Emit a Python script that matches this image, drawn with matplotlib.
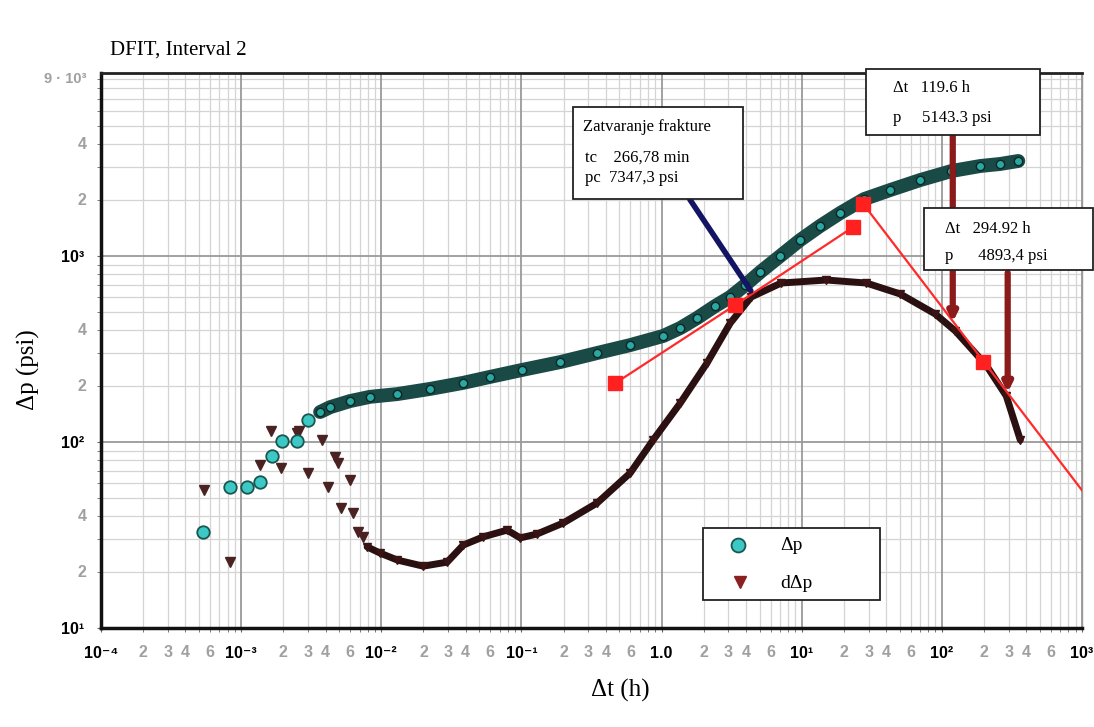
import matplotlib
matplotlib.use("Agg")
import matplotlib.pyplot as plt
from matplotlib.patches import Rectangle
from matplotlib.lines import Line2D
from matplotlib.ticker import FixedLocator, NullFormatter

# Data: delta p (early scattered points, then dense curve)
t_dp_early = [5.3e-4, 8.3e-4, 1.1e-3, 1.36e-3, 1.66e-3, 1.96e-3, 2.5e-3, 3.0e-3]
dp_early = [33, 57, 57, 61, 84, 101, 101, 131]
t_dp = [3.66e-3, 4.32e-3, 5.98e-3, 8.32e-3, 0.013, 0.0223, 0.0384, 0.0598, 0.101,
        0.189, 0.347, 0.597, 1.03, 1.36, 1.79, 2.41, 3.09, 3.95, 5.06, 7.02, 9.75,
        13.5, 18.8, 27.9, 42.8, 70.2, 117, 188, 261, 351]
dp = [145, 154, 166, 175, 181, 193, 208, 224, 244, 269, 301, 332, 372, 410, 464,
      538, 602, 698, 820, 1000, 1219, 1449, 1702, 2024, 2264, 2563, 2864, 3048,
      3126, 3243]

# Data: derivative
t_der_early = [5.45e-4, 8.3e-4, 1.36e-3, 1.63e-3, 1.93e-3, 2.5e-3, 2.6e-3, 3.0e-3,
               3.78e-3, 4.15e-3, 4.7e-3, 4.9e-3, 5.2e-3, 6.0e-3, 6.3e-3, 6.8e-3, 7.4e-3]
der_early = [55, 22.6, 75, 115, 72.5, 112, 115, 68, 103, 57, 83, 77, 44, 62.5, 41.5, 33, 31]
t_der = [7.93e-3, 9.79e-3, 0.013, 0.0199, 0.0295, 0.0384, 0.0533, 0.0791, 0.098,
         0.129, 0.199, 0.347, 0.597, 0.871, 1.36, 2.11, 3.09, 4.36, 7.14, 15.0,
         28.9, 50.5, 89.7, 125, 207, 288, 363]
der = [27.3, 25.3, 23.2, 21.5, 22.6, 27.9, 30.9, 33.6, 30.5, 32.0, 36.7, 47.0,
       68.1, 102.5, 162, 266, 436, 602, 716, 743, 716, 625, 488, 395, 259, 177, 102.5]

# Red fitted points and lines
t_sq = [0.467, 3.35, 23.3, 27.5, 198]
p_sq = [207, 545, 1432, 1905, 269]
line_end = (1000, 55)

# Annotations
tc_h = 266.78 / 60
t_arrow1, t_arrow2 = 119.6, 294.92

xmaj = [1e-4, 1e-3, 1e-2, 1e-1, 1, 10, 100, 1000]
xmaj_lbl = ["10⁻⁴", "10⁻³", "10⁻²", "10⁻¹", "1.0", "10¹", "10²", "10³"]
ymaj = [10, 100, 1000]
ymaj_lbl = ["10¹", "10²", "10³"]

fig = plt.figure(figsize=(10.94, 7.27), dpi=100)
ax = fig.add_axes([101 / 1094, 99 / 727, 981 / 1094, 555 / 727])
ax.set_xscale("log")
ax.set_yscale("log")
ax.set_xlim(1e-4, 1e3)
ax.set_ylim(10, 9640)

# grid
xminor = [m * 10.0 ** e for e in range(-4, 3) for m in range(2, 10)]
yminor = [m * 10.0 ** e for e in range(1, 4) for m in range(2, 10) if m * 10.0 ** e < 9640]
for v in xminor:
    ax.axvline(v, color="#d4d4d4", lw=0.9, zorder=0)
for v in yminor:
    ax.axhline(v, color="#d4d4d4", lw=0.9, zorder=0)
for v in xmaj[1:-1]:
    ax.axvline(v, color="#9a9a9a", lw=1.3, zorder=0)
for v in ymaj[1:]:
    ax.axhline(v, color="#9a9a9a", lw=1.3, zorder=0)
ax.axvline(1000, color="#9a9a9a", lw=1.3, zorder=0)

# ticks
ax.xaxis.set_major_locator(FixedLocator(xmaj))
ax.xaxis.set_minor_locator(FixedLocator(xminor))
ax.yaxis.set_major_locator(FixedLocator(ymaj))
ax.yaxis.set_minor_locator(FixedLocator(yminor))
ax.set_xticklabels(xmaj_lbl)
ax.set_yticklabels(ymaj_lbl)
ax.xaxis.set_minor_formatter(NullFormatter())
ax.yaxis.set_minor_formatter(NullFormatter())
ax.tick_params(which="both", length=3, color="#666666")
ax.tick_params(axis="x", pad=10)
ax.tick_params(axis="y", pad=9)
tickfont = ["Liberation Sans", "DejaVu Sans"]
for lab in ax.get_xticklabels() + ax.get_yticklabels():
    lab.set_family(tickfont)
    lab.set_fontweight("bold")
    lab.set_fontsize(11.5)
    lab.set_color("black")

# gray minor labels
for e in range(-4, 3):
    for m in [2, 3, 4, 6]:
        ax.text(m * 10.0 ** e, -0.03, str(m), transform=ax.get_xaxis_transform(),
                ha="center", va="top", fontsize=11.5, fontweight="bold",
                color="#a0a0a0", family=tickfont)
for e in [1, 2, 3]:
    for m in [2, 4]:
        ax.text(-0.015, m * 10.0 ** e, str(m), transform=ax.get_yaxis_transform(),
                ha="right", va="center", fontsize=11.5, fontweight="bold",
                color="#a0a0a0", family=tickfont)
ax.text(-0.015, 9000, "9 · 10³", transform=ax.get_yaxis_transform(), ha="right",
        va="center", fontsize=10.5, fontweight="bold", color="#a0a0a0", family=tickfont)

for s in ["left", "bottom"]:
    ax.spines[s].set_linewidth(2.5)
    ax.spines[s].set_color("#111111")
ax.spines["top"].set_linewidth(2)
ax.spines["top"].set_color("#222222")
ax.spines["right"].set_linewidth(1)
ax.spines["right"].set_color("#999999")

# derivative
ax.plot(t_der, der, color="#2a1010", lw=5, zorder=3, solid_capstyle="round")
ax.plot(t_der, der, "v", ms=6, color="#3a1414", zorder=3)
ax.plot(t_der_early, der_early, "v", ms=7, color="#4a2222", zorder=3)

# delta p
ax.plot(t_dp, dp, color="#1a4a46", lw=10, zorder=4, solid_capstyle="round")
ax.plot(t_dp, dp, "o", ms=6, mfc="#2aa8a2", mec="#0d2525", mew=1, zorder=4)
ax.plot(t_dp_early, dp_early, "o", ms=9, mfc="#3cc8c4", mec="#1a5550", mew=1.3, zorder=4)

# red lines and squares
ax.plot(t_sq[:3], p_sq[:3], color="#ff2a2a", lw=1.6, zorder=5)
ax.plot([t_sq[3], line_end[0]], [p_sq[3], line_end[1]], color="#ff2a2a", lw=1.6, zorder=5)
ax.plot(t_sq, p_sq, "s", ms=10, color="#ff2020", zorder=6)

# arrows
ax.annotate("", xy=(t_arrow1, 426), xytext=(t_arrow1, 4581), zorder=7,
            arrowprops=dict(arrowstyle="-|>,head_length=0.5,head_width=0.25",
                            color="#8b1a1a", lw=4.5))
ax.annotate("", xy=(t_arrow2, 178), xytext=(t_arrow2, 841), zorder=7,
            arrowprops=dict(arrowstyle="-|>,head_length=0.5,head_width=0.25",
                            color="#8b1a1a", lw=4.5))
ax.annotate("", xy=(tc_h, 632), xytext=(1.55, 2075), zorder=7,
            arrowprops=dict(arrowstyle="-", color="#141464", lw=4))

serif = ["Liberation Serif", "DejaVu Serif"]


def box(x0, y0, x1, y1, lines):
    fig.patches.append(Rectangle((x0 / 1094, 1 - y1 / 727), (x1 - x0) / 1094,
                                 (y1 - y0) / 727, transform=fig.transFigure,
                                 facecolor="white", edgecolor="#222222", lw=1.3,
                                 zorder=10))
    for (tx, ty, s) in lines:
        fig.text(tx / 1094, 1 - ty / 727, s, ha="left", va="center",
                 fontsize=12, family=serif, zorder=11)


box(573, 107, 743, 199, [(583, 127, "Zatvaranje frakture"),
                         (585, 158, "tc    266,78 min"),
                         (585, 178, "pc  7347,3 psi")])
box(866, 69, 1040, 135, [(893, 88, "Δt   119.6 h"),
                         (893, 118, "p     5143.3 psi")])
box(924, 208, 1093, 270, [(945, 229, "Δt   294.92 h"),
                          (945, 256, "p      4893,4 psi")])

# legend
fig.patches.append(Rectangle((703 / 1094, 1 - 600 / 727), 177 / 1094, 72 / 727,
                             transform=fig.transFigure, facecolor="white",
                             edgecolor="#222222", lw=1.3, zorder=10))
fig.lines.append(Line2D([738 / 1094], [1 - 545 / 727], marker="o", ms=10,
                        mfc="#3cc8c4", mec="#1a5550", mew=1.3,
                        transform=fig.transFigure, zorder=11))
fig.lines.append(Line2D([740 / 1094], [1 - 582 / 727], marker="v", ms=9,
                        color="#8b2020", transform=fig.transFigure, zorder=11))
fig.text(780 / 1094, 1 - 546 / 727, "Δp", fontsize=14, family=serif, va="center", zorder=11)
fig.text(780 / 1094, 1 - 583 / 727, "dΔp", fontsize=14, family=serif, va="center", zorder=11)

fig.text(110 / 1094, 1 - 50 / 727, "DFIT, Interval 2", fontsize=15, family=serif,
         va="center", ha="left")
fig.text(28 / 1094, 1 - 370 / 727, "Δp (psi)", fontsize=18, family=serif,
         va="center", ha="center", rotation=90)
fig.text(620 / 1094, 1 - 690 / 727, "Δt (h)", fontsize=18, family=serif,
         va="center", ha="center")

fig.savefig("out.png", dpi=100)
